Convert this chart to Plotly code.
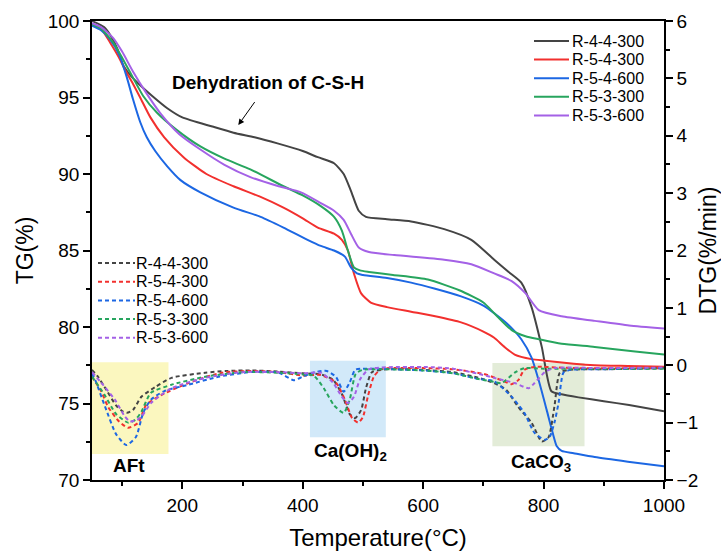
import plotly.graph_objects as go

names = ["R-4-4-300", "R-5-4-300", "R-5-4-600", "R-5-3-300", "R-5-3-600"]
colors = ["#444444", "#F2302E", "#1C67E3", "#27A55E", "#A461E6"]

# ---- TG curves (left axis, %) ----
tg_black_T = [50, 70, 80, 92, 102, 115, 130, 150, 175, 200, 250, 285, 320, 358, 400, 425, 452, 468, 480, 493, 505, 540, 580, 635, 680, 718, 742, 763, 780, 797, 813, 830, 858, 900, 942, 1000]
tg_black = [100, 99.6, 99.1, 98.2, 97.1, 96.4, 95.8, 95.1, 94.3, 93.7, 93.1, 92.7, 92.4, 92.0, 91.5, 91.1, 90.7, 90.0, 88.9, 87.6, 87.2, 87.05, 86.9, 86.4, 85.7, 84.4, 83.6, 82.9, 81.3, 78.7, 75.8, 75.6, 75.4, 75.15, 74.9, 74.5]

tg_red_T = [50, 65, 80, 95, 105, 118, 130, 147, 170, 202, 240, 285, 330, 368, 400, 425, 452, 465, 475, 485, 497, 513, 540, 580, 620, 663, 700, 718, 735, 752, 780, 802, 850, 885, 940, 1000]
tg_red = [99.8, 99.5, 98.6, 97.6, 96.8, 95.9, 95.0, 93.7, 92.4, 91.1, 90.0, 89.2, 88.5, 87.8, 87.1, 86.5, 86.1, 85.7, 85.0, 83.5, 82.2, 81.6, 81.3, 81.0, 80.7, 80.3, 79.7, 79.3, 78.7, 78.2, 77.9, 77.8, 77.6, 77.5, 77.45, 77.4]

tg_blue_T = [50, 65, 80, 95, 108, 118, 130, 141, 155, 175, 197, 230, 285, 330, 368, 408, 430, 452, 470, 480, 490, 500, 540, 580, 620, 663, 700, 718, 740, 763, 780, 792, 805, 815, 822, 830, 850, 885, 940, 1000]
tg_blue = [99.7, 99.4, 98.8, 97.8, 96.3, 94.9, 93.4, 92.4, 91.5, 90.5, 89.6, 88.8, 87.8, 87.2, 86.5, 85.7, 85.3, 85.0, 84.6, 83.9, 83.5, 83.4, 83.2, 82.9, 82.5, 82.0, 81.4, 80.9, 80.2, 79.2, 78.0, 76.5, 74.6, 73.1, 72.2, 71.9, 71.75, 71.5, 71.2, 70.9]

tg_green_T = [50, 65, 85, 100, 118, 135, 158, 190, 230, 270, 313, 368, 400, 430, 452, 465, 475, 485, 495, 510, 550, 608, 660, 700, 718, 747, 770, 792, 830, 885, 952, 1000]
tg_green = [99.8, 99.5, 98.6, 97.6, 96.3, 95.1, 94.0, 92.9, 91.8, 91.0, 90.3, 89.2, 88.6, 87.9, 87.2, 86.3, 85.0, 83.9, 83.7, 83.6, 83.4, 83.1, 82.4, 81.6, 80.9, 79.8, 79.4, 79.2, 78.9, 78.7, 78.4, 78.2]

tg_purple_T = [50, 65, 85, 100, 118, 140, 163, 195, 230, 270, 313, 360, 397, 430, 452, 468, 480, 493, 510, 552, 635, 680, 718, 747, 770, 792, 830, 885, 942, 1000]
tg_purple = [99.85, 99.6, 98.9, 98.0, 96.7, 95.3, 94.0, 92.6, 91.6, 90.6, 89.8, 89.2, 88.8, 88.1, 87.6, 87.0, 86.1, 85.2, 84.9, 84.7, 84.4, 84.1, 83.5, 83.0, 82.2, 81.1, 80.7, 80.4, 80.1, 79.9]

# ---- DTG curves (right axis, %/min) ----
dtg_black_T = [50, 60, 75, 90, 100, 108, 118, 132, 155, 182, 238, 273, 313, 360, 400, 430, 450, 465, 478, 487, 497, 505, 515, 540, 600, 650, 692, 718, 738, 758, 780, 797, 808, 818, 827, 842, 900, 1000]
dtg_black = [-0.08, -0.2, -0.45, -0.7, -0.8, -0.83, -0.78, -0.55, -0.38, -0.22, -0.13, -0.1, -0.09, -0.11, -0.14, -0.16, -0.25, -0.5, -0.85, -0.92, -0.78, -0.4, -0.12, -0.07, -0.08, -0.12, -0.22, -0.31, -0.43, -0.73, -1.0, -1.33, -1.26, -0.72, -0.13, -0.08, -0.07, -0.05]

dtg_red_T = [50, 65, 77, 95, 110, 127, 140, 165, 210, 265, 313, 360, 400, 430, 455, 470, 482, 492, 500, 508, 518, 530, 600, 650, 700, 730, 747, 758, 768, 785, 850, 1000]
dtg_red = [-0.2, -0.45, -0.73, -0.98, -1.09, -1.0, -0.69, -0.52, -0.31, -0.13, -0.1, -0.12, -0.18, -0.17, -0.3, -0.6, -0.92, -1.0, -0.9, -0.55, -0.2, -0.07, -0.05, -0.07, -0.15, -0.26, -0.33, -0.26, -0.08, -0.03, -0.05, -0.05]

dtg_blue_T = [50, 55, 72, 90, 107, 123, 135, 148, 170, 210, 260, 313, 360, 385, 400, 420, 440, 455, 468, 478, 487, 500, 600, 650, 692, 718, 747, 768, 785, 802, 810, 818, 825, 833, 845, 900, 1000]
dtg_blue = [-0.15, -0.25, -0.73, -1.2, -1.39, -1.25, -0.83, -0.6, -0.45, -0.34, -0.2, -0.12, -0.13, -0.26, -0.2, -0.12, -0.1, -0.2, -0.46, -0.3, -0.08, -0.06, -0.09, -0.14, -0.24, -0.28, -0.55, -0.83, -1.18, -1.3, -1.25, -1.0, -0.65, -0.13, -0.08, -0.07, -0.05]

dtg_green_T = [50, 70, 90, 110, 122, 132, 148, 182, 238, 300, 360, 400, 418, 435, 452, 468, 478, 488, 500, 600, 650, 692, 713, 730, 752, 768, 800, 1000]
dtg_green = [-0.2, -0.5, -0.85, -1.0, -0.95, -0.81, -0.48, -0.34, -0.2, -0.12, -0.13, -0.16, -0.18, -0.4, -0.7, -0.83, -0.6, -0.15, -0.08, -0.09, -0.14, -0.24, -0.28, -0.31, -0.13, -0.05, -0.06, -0.06]

dtg_purple_T = [50, 65, 88, 105, 113, 125, 132, 148, 182, 238, 300, 360, 400, 430, 450, 465, 475, 485, 495, 510, 600, 650, 692, 718, 752, 775, 785, 802, 818, 900, 1000]
dtg_purple = [-0.12, -0.3, -0.6, -0.9, -0.98, -0.95, -0.9, -0.66, -0.4, -0.22, -0.12, -0.12, -0.14, -0.13, -0.3, -0.55, -0.66, -0.55, -0.25, -0.07, -0.03, -0.06, -0.15, -0.22, -0.31, -0.4, -0.31, -0.12, -0.05, -0.05, -0.04]

tg_data = [(tg_black_T, tg_black), (tg_red_T, tg_red), (tg_blue_T, tg_blue), (tg_green_T, tg_green), (tg_purple_T, tg_purple)]
dtg_data = [(dtg_black_T, dtg_black), (dtg_red_T, dtg_red), (dtg_blue_T, dtg_blue), (dtg_green_T, dtg_green), (dtg_purple_T, dtg_purple)]

# shaded regions (x range in degC, y range on TG axis)
regions = [
    ((50, 177), (71.7, 77.7), "rgba(250,246,180,0.85)"),
    ((412, 538), (72.8, 77.8), "rgba(205,231,248,0.9)"),
    ((715, 868), (72.2, 77.65), "rgba(224,234,212,0.9)"),
]

FONT = "Arial, Liberation Sans, sans-serif"
W, H = 721, 554
ML, MR, MT, MB = 92, 57, 21, 74
PW, PH = W - ML - MR, H - MT - MB

def px(x):
    return (x - ML) / PW

def py(y):
    return 1 - (y - MT) / PH

fig = go.Figure()

for (x0, x1), (y0, y1), c in regions:
    fig.add_shape(type="rect", xref="x", yref="y", x0=x0, x1=x1, y0=y0, y1=y1,
                  fillcolor=c, line_width=0, layer="below")

for n, c, (t, v) in zip(names, colors, tg_data):
    fig.add_trace(go.Scatter(x=t, y=v, name=n, mode="lines", showlegend=False,
                             line=dict(color=c, width=2, shape="spline", smoothing=0.6),
                             yaxis="y"))

DASH = "4px,3px"
for n, c, (t, v) in zip(names, colors, dtg_data):
    fig.add_trace(go.Scatter(x=t, y=v, name=n, mode="lines", showlegend=False,
                             line=dict(color=c, width=2, dash=DASH, shape="spline", smoothing=0.6),
                             yaxis="y2"))

# legends (solid: TG, dashed: DTG)
def add_legend(x_line0, x_line1, x_text, y_first, step, dash):
    for i, (n, c) in enumerate(zip(names, colors)):
        yy = py(y_first + i * step)
        fig.add_shape(type="line", xref="paper", yref="paper", x0=px(x_line0), x1=px(x_line1),
                      y0=yy, y1=yy, line=dict(color=c, width=2, dash=dash))
        fig.add_annotation(xref="paper", yref="paper", x=px(x_text), y=yy, text=n,
                           showarrow=False, xanchor="left", yanchor="middle",
                           font=dict(family=FONT, size=16, color="black"))

add_legend(534, 569, 570, 41, 18.6, "solid")
add_legend(98, 135, 134, 263, 18.7, DASH)

axis_common = dict(showline=True, linecolor="black", linewidth=1.5, ticks="outside",
                   ticklen=7, tickwidth=1.5, tickcolor="black", showgrid=False, zeroline=False,
                   automargin=False,
                   tickfont=dict(family=FONT, size=19, color="black"))
minor_common = dict(ticklen=4, tickwidth=1.5, tickcolor="black", ticks="outside")

fig.update_layout(
    width=W, height=H,
    margin=dict(l=ML, r=MR, t=MT, b=MB, autoexpand=False),
    plot_bgcolor="white", paper_bgcolor="white",
    font=dict(family=FONT, color="black"),
    showlegend=False,
    xaxis=dict(range=[50, 1000], tickvals=[200, 400, 600, 800, 1000], mirror=True,
               minor=dict(tickvals=[100, 300, 500, 700, 900], **minor_common),
               title=dict(text="Temperature(°C)", font=dict(family=FONT, size=24), standoff=15),
               **axis_common),
    yaxis=dict(range=[70, 100], dtick=5, mirror=True,
               minor=dict(dtick=2.5, **minor_common),
               title=dict(text="TG(%)", font=dict(family=FONT, size=23), standoff=8),
               **axis_common),
    yaxis2=dict(range=[-2, 6], dtick=1, overlaying="y", side="right",
                minor=dict(dtick=0.5, **minor_common),
                title=dict(text="DTG(%/min)", font=dict(family=FONT, size=23), standoff=8),
                **axis_common),
)

fig.add_annotation(x=112, y=70.98, xref="x", yref="y", text="<b>AFt</b>", showarrow=False,
                   font=dict(family=FONT, size=19))
fig.add_annotation(x=480, y=71.8, xref="x", yref="y", text="<b>Ca(OH)<sub>2</sub></b>", showarrow=False,
                   font=dict(family=FONT, size=19))
fig.add_annotation(x=795, y=71.1, xref="x", yref="y", text="<b>CaCO<sub>3</sub></b>", showarrow=False,
                   font=dict(family=FONT, size=19))
fig.add_annotation(x=343, y=96.0, xref="x", yref="y", text="<b>Dehydration of C-S-H</b>", showarrow=False,
                   font=dict(family=FONT, size=19))
fig.add_annotation(x=293, y=93.2, ax=322, ay=94.8, xref="x", yref="y", axref="x", ayref="y",
                   text="", showarrow=True, arrowhead=2, arrowsize=1.2, arrowwidth=1, arrowcolor="black")

fig.write_html("out.html")
